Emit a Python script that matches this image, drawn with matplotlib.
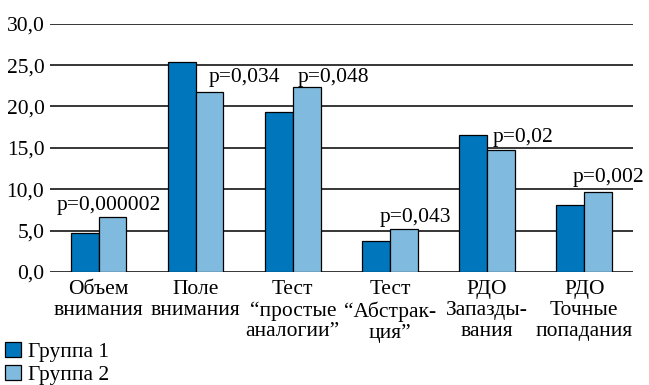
import numpy as np
import matplotlib.pyplot as plt
from matplotlib.patches import Patch

categories = ["Объем\nвнимания", "Поле\nвнимания", "Тест\n“простые\nаналогии”",
              "Тест\n“Абстрак-\nция”", "РДО\nЗапазды-\nвания", "РДО\nТочные\nпопадания"]
group1 = [4.7, 25.4, 19.3, 3.8, 16.5, 8.1]
group2 = [6.6, 21.8, 22.3, 5.2, 14.7, 9.7]
p_labels = ["p=0,000002", "p=0,034", "p=0,048", "p=0,043", "p=0,02", "p=0,002"]
yticks = [0, 5, 10, 15, 20, 25, 30]

# layout: horizontal shift of p-labels and their baseline height
p_dx = [0.10, 0.50, 0.42, 0.26, 0.37, 0.25]
p_y = [7.5, 23.0, 23.0, 6.0, 15.75, 10.9]

plt.rcParams["font.family"] = ["Liberation Serif", "DejaVu Serif"]
fs = 15.5
c1, c2 = "#0077bd", "#80bbdf"

fig = plt.figure(figsize=(6.49, 3.85), dpi=100)
ax = fig.add_axes([0.077, 0.2935, 0.898, 0.645])

x = np.arange(len(categories))
w = 0.286
ax.bar(x - w / 2, group1, w, color=c1, edgecolor="black", linewidth=0.9, zorder=3)
ax.bar(x + w / 2, group2, w, color=c2, edgecolor="black", linewidth=0.9, zorder=3)

for i, lab in enumerate(p_labels):
    ax.text(x[i] + p_dx[i], p_y[i], lab, ha="center", va="baseline",
            fontsize=fs, zorder=4)

ax.set_xlim(-0.5, len(categories) - 0.5)
ax.set_ylim(0, 30)
ax.set_yticks(yticks)
ax.set_yticklabels([f"{v:.1f}".replace(".", ",") for v in yticks], fontsize=fs)
ax.set_xticks(x)
ax.set_xticklabels(categories, fontsize=fs, linespacing=1.13)
ax.tick_params(length=0)
ax.tick_params(axis="y", pad=4)
ax.tick_params(axis="x", pad=6)
ax.yaxis.grid(True, color="black", linewidth=1.1)
ax.set_axisbelow(True)
for s in ax.spines.values():
    s.set_visible(False)

handles = [Patch(facecolor=c1, edgecolor="black", linewidth=0.9, label="Группа 1"),
           Patch(facecolor=c2, edgecolor="black", linewidth=0.9, label="Группа 2")]
fig.legend(handles=handles, loc="lower left", bbox_to_anchor=(0.005, -0.006),
           frameon=False, fontsize=fs, handlelength=0.72, handleheight=0.72,
           handletextpad=0.35, labelspacing=0.15, borderpad=0.1, borderaxespad=0)

fig.savefig("out.png", dpi=100)
